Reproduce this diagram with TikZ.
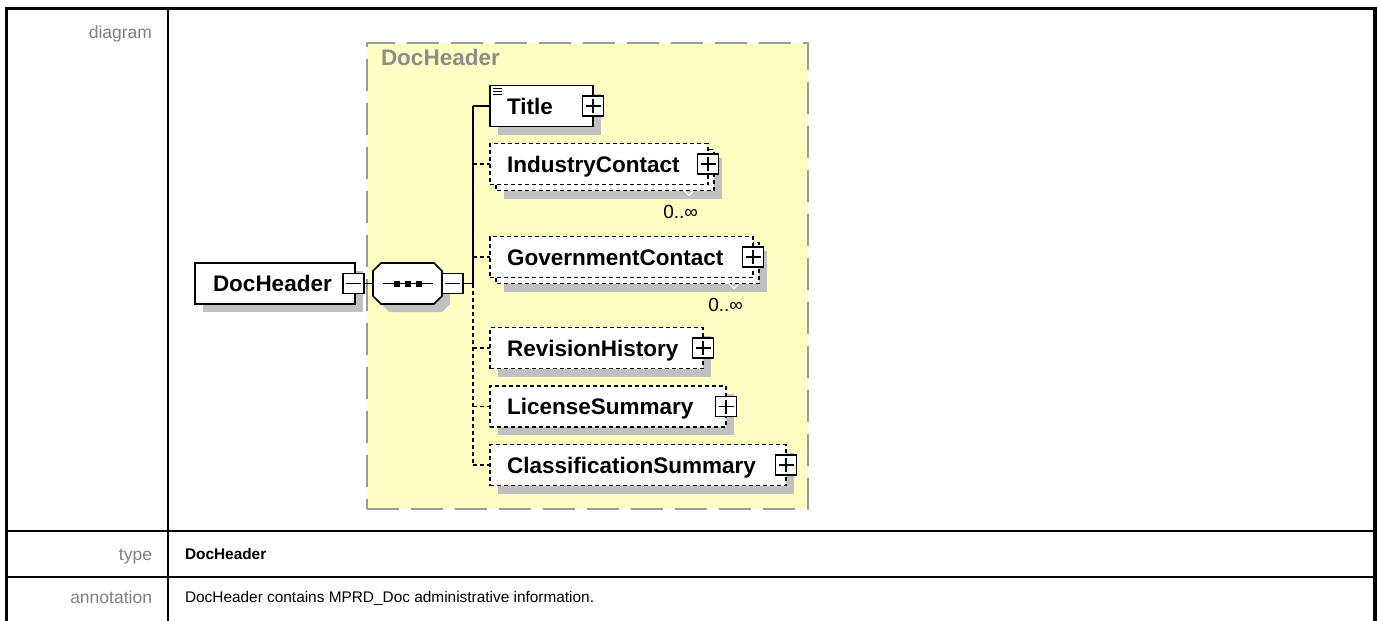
\documentclass[tikz,border=0pt]{standalone}
\usepackage{fontspec}
\setmainfont{Liberation Sans}
\usetikzlibrary{calc}
\pgfdeclarelayer{grp}
\pgfdeclarelayer{shade}
\pgfdeclarelayer{back}
\pgfsetlayers{grp,shade,back,main}

\definecolor{shadegray}{HTML}{C0C0C0}
\definecolor{grpfill}{HTML}{FFFFC4}
\definecolor{grpline}{HTML}{9A9A9A}
\definecolor{lblgray}{HTML}{808080}
\definecolor{grptext}{HTML}{8C8C8C}

% drop shadow behind an element box (#2 = extra offset for stacked boxes)
\newcommand\elshadow[2]{%
  \begin{pgfonlayer}{shade}
    \fill[shadegray] ($(#1.north west)+(#2+8,#2+8)$) rectangle ($(#1.south east)+(#2+8,#2+8)$);
  \end{pgfonlayer}}
% second box behind an element that may occur several times
\newcommand\elstack[1]{%
  \begin{pgfonlayer}{back}
    \draw[line width=1.6pt,dash pattern=on 4pt off 3pt,fill=white]
      ($(#1.north west)+(6,6)$) rectangle ($(#1.south east)+(6,6)$);
  \end{pgfonlayer}}
% octagon outline of a compositor node, shifted by (#2,#2)
\newcommand\octagon[3]{%
  \path[#3] ($(#1.north west)+(8+#2,#2)$) -- ($(#1.north east)+(-8+#2,#2)$)
    -- ($(#1.north east)+(#2,8+#2)$) -- ($(#1.south east)+(#2,-8+#2)$)
    -- ($(#1.south east)+(-8+#2,#2)$) -- ($(#1.south west)+(8+#2,#2)$)
    -- ($(#1.south west)+(#2,-8+#2)$) -- ($(#1.north west)+(#2,8+#2)$) -- cycle;}

\begin{document}
\begin{tikzpicture}[x=1pt,y=-1pt,
  every node/.style={inner sep=0pt,outer sep=0pt},
  tabtext/.style={font=\fontsize{15.4}{18}\selectfont},
  rowlabel/.style={font=\fontsize{17.5}{20}\selectfont,text=lblgray,anchor=base east},
  elfont/.style={font=\fontsize{22.5}{26}\selectfont\bfseries},
  elbase/.style={elfont,fill=white,line width=1.6pt,minimum height=41pt,
    anchor=west,align=left,inner xsep=17pt,text height=16.1pt,text depth=0pt},
  reqel/.style={elbase,draw=black},
  opt/.style={dash pattern=on 4pt off 3pt},
  optel/.style={elbase,draw=black,opt},
  pmbox/.style={draw=black,fill=white,line width=1.5pt,minimum width=21pt,minimum height=20pt},
  plusbox/.style={pmbox,path picture={\draw[line width=1.4pt]
      ([xshift=3pt]path picture bounding box.west)--([xshift=-3pt]path picture bounding box.east)
      ([yshift=-3pt]path picture bounding box.north)--([yshift=3pt]path picture bounding box.south);}},
  minusbox/.style={pmbox,path picture={\draw[line width=1.4pt]
      ([xshift=3pt]path picture bounding box.west)--([xshift=-3pt]path picture bounding box.east);}},
  link/.style={line width=1.6pt},
  occ/.style={font=\fontsize{19}{22}\selectfont,anchor=east},
  tickline/.style={white,line width=1.2pt},
]
\useasboundingbox (0,0) rectangle (1379,621);

% ---- table frame ----
\draw[line width=3pt] (5,8.5) -- (1376.5,8.5);
\draw[line width=3pt] (6.5,7) -- (6.5,621);
\draw[line width=4pt] (1374.5,7) -- (1374.5,621);
\draw[line width=2pt] (167.5,8.5) -- (167.5,621);
\draw[line width=2pt] (6.5,531) -- (1374.5,531);
\draw[line width=2pt] (6.5,577) -- (1374.5,577);

\node[rowlabel] (lbl-diagram) at (152,38.5) {diagram};
\node[rowlabel] (lbl-type) at (152,560) {type};
\node[rowlabel] (lbl-annot) at (152,603.5) {annotation};
\node[font=\fontsize{15.4}{18}\selectfont\bfseries,anchor=base west] (val-type) at (185,559.5) {DocHeader};
\node[tabtext,anchor=base west] (val-annot) at (185,602.5) {DocHeader contains MPRD\_Doc administrative information.};

% ---- complex type group ----
\begin{pgfonlayer}{grp}
  \node[draw=grpline,fill=grpfill,line width=2pt,dash pattern=on 32pt off 12pt,
        minimum width=441pt,minimum height=466pt,anchor=north west] (grp) at (367,43) {};
\end{pgfonlayer}
\node[elfont,text=grptext,anchor=west] (grplabel) at (381,57.5) {DocHeader};

% ---- root element and sequence ----
\node[reqel,text width=124pt,inner xsep=18pt] (root) at (195,283.5) {DocHeader};
\node[minusbox] (rootpm) at ($(root.east)+(-1.5,0)$) {};
\elshadow{root}{0}

\node[minimum width=69pt,minimum height=41pt] (seq) at (407.5,283.5) {};
\begin{pgfonlayer}{shade}
  \octagon{seq}{8}{fill=shadegray}
\end{pgfonlayer}
\octagon{seq}{0}{draw=black,fill=white,line width=1.6pt}
\draw[line width=1.6pt] ($(seq.center)+(-25,0)$) -- ($(seq.center)+(25,0)$);
\foreach \dx in {-11,0,11}
  \fill ($(seq.center)+(\dx-3,-3)$) rectangle ($(seq.center)+(\dx+3,3)$);
\node[minusbox,anchor=west] (seqpm) at (seq.east) {};

% ---- children ----
\node[reqel,text width=69pt] (title) at (490,106) {Title};
\node[optel,text width=184pt] (ind) at (490,164) {IndustryContact};
\node[optel,text width=229pt] (gov) at (490,257) {GovernmentContact};
\node[optel,text width=179pt] (rev) at (490,348) {RevisionHistory};
\node[optel,text width=202pt] (lic) at (490,406.5) {LicenseSummary};
\node[optel,text width=262pt] (cls) at (490,465) {ClassificationSummary};

\elstack{ind}
\elstack{gov}
\elshadow{title}{0}
\elshadow{ind}{6}
\elshadow{gov}{6}
\elshadow{rev}{0}
\elshadow{lic}{0}
\elshadow{cls}{0}

% simple-content mark on Title
\foreach \dy in {3,6,9}
  \draw[line width=1pt] ($(title.north west)+(3,\dy)$) -- ++(9,0);

\foreach \n in {title,ind,gov,rev,lic,cls}
  \node[plusbox] (\n pm) at (\n.east) {};

% occurrence labels
\node[occ] (indocc) at ($(ind.south east)+(-10,27)$) {0..∞};
\node[occ] (govocc) at ($(gov.south east)+(-10,27)$) {0..∞};
\draw[tickline] ($(ind.south east)+(-29,1)$) -- ($(ind.south east)+(-19,11)$) -- ($(ind.south east)+(-15,7)$);
\draw[tickline] ($(gov.south east)+(-29,1)$) -- ($(gov.south east)+(-19,11)$) -- ($(gov.south east)+(-15,7)$);

% ---- connectors ----
\coordinate (trunk) at (473,283.5);
\draw[link] (rootpm.east) -- (seq.west);
\draw[link] (seqpm.east) -- (trunk);
\draw[link] (trunk |- title.west) -- (trunk);
\draw[link,opt] (trunk) -- (trunk |- cls.west);
\draw[link] (trunk |- title.west) -- (title.west);
\foreach \n in {ind,gov,rev,lic,cls}
  \draw[link,opt] (trunk |- \n.west) -- (\n.west);
\end{tikzpicture}
\end{document}
